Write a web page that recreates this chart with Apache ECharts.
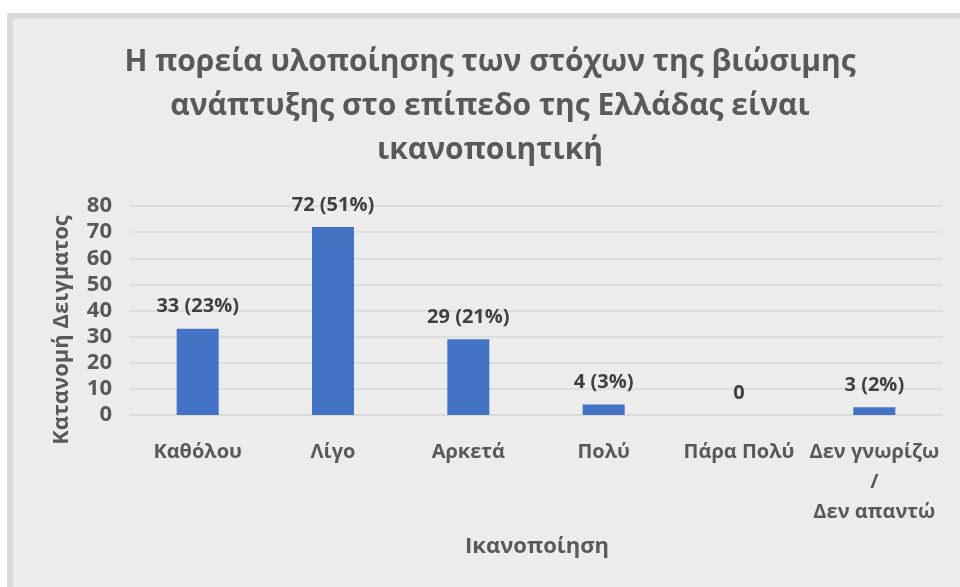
<!DOCTYPE html>
<html>
<head>
<meta charset="utf-8">
<script src="https://cdn.jsdelivr.net/npm/echarts@6/dist/echarts.min.js"></script>
<style>
  html, body { margin: 0; padding: 0; background: #ffffff; }
  #frame {
    position: absolute; left: 7px; top: 13px; width: 953px; height: 574px;
    box-sizing: border-box; border-left: 6px solid #dadada; border-top: 6px solid #dadada;
    background: #ececec;
  }
  #chart { position: absolute; left: 0; top: 0; width: 960px; height: 587px; }
</style>
</head>
<body>
<div id="frame"></div>
<div id="chart"></div>
<script>
// Responses per satisfaction level
const categories = ['Καθόλου', 'Λίγο', 'Αρκετά', 'Πολύ', 'Πάρα Πολύ', 'Δεν γνωρίζω\n/\nΔεν απαντώ'];
const counts = [33, 72, 29, 4, 0, 3];
const percents = [23, 51, 21, 3, null, 2];
const yTicks = { min: 0, max: 80, interval: 10 };

const titleText = 'Η πορεία υλοποίησης των στόχων της βιώσιμης\nανάπτυξης στο επίπεδο της Ελλάδας είναι\nικανοποιητική';
const yName = 'Κατανομή Δειγματος';
const xName = 'Ικανοποίηση';

const FONT = '"Open Sans", sans-serif';
const chart = echarts.init(document.getElementById('chart'), null, { renderer: 'canvas' });

chart.setOption({
  backgroundColor: 'transparent',
  animation: false,
  title: {
    text: titleText,
    left: 490, top: 40, textAlign: 'center',
    padding: 0,
    textStyle: { fontFamily: FONT, fontSize: 30, fontWeight: 'bold', color: '#595959', lineHeight: 44 }
  },
  grid: { left: 130, right: 18, top: 206, bottom: 172, containLabel: false },
  xAxis: {
    type: 'category',
    data: categories,
    axisLine: { show: true, lineStyle: { color: '#d9d9d9', width: 1.5 } },
    axisTick: { show: false },
    axisLabel: {
      fontFamily: FONT, fontSize: 20, fontWeight: 'bold', color: '#595959',
      margin: 22, lineHeight: 30, interval: 0
    }
  },
  yAxis: {
    type: 'value',
    min: yTicks.min, max: yTicks.max, interval: yTicks.interval,
    axisLine: { show: false },
    axisTick: { show: false },
    splitLine: { lineStyle: { color: '#d9d9d9', width: 1.5 } },
    axisLabel: { fontFamily: FONT, fontSize: 22, fontWeight: 'bold', color: '#595959', margin: 18 }
  },
  graphic: [
    {
      type: 'text', x: 62, y: 330, rotation: Math.PI / 2,
      style: { text: yName, fontFamily: FONT, fontSize: 22, fontWeight: 'bold', fill: '#595959', align: 'center', verticalAlign: 'middle' }
    },
    {
      type: 'text', x: 537, y: 547,
      style: { text: xName, fontFamily: FONT, fontSize: 22, fontWeight: 'bold', fill: '#595959', align: 'center', verticalAlign: 'middle' }
    }
  ],
  series: [{
    type: 'bar',
    data: counts,
    barWidth: 42,
    itemStyle: { color: '#4472c4' },
    label: {
      show: true, position: 'top', distance: 12,
      fontFamily: FONT, fontSize: 20, fontWeight: 'bold', color: '#404040',
      formatter: p => percents[p.dataIndex] == null ? String(p.value) : p.value + ' (' + percents[p.dataIndex] + '%)'
    }
  }]
});
</script>
</body>
</html>
